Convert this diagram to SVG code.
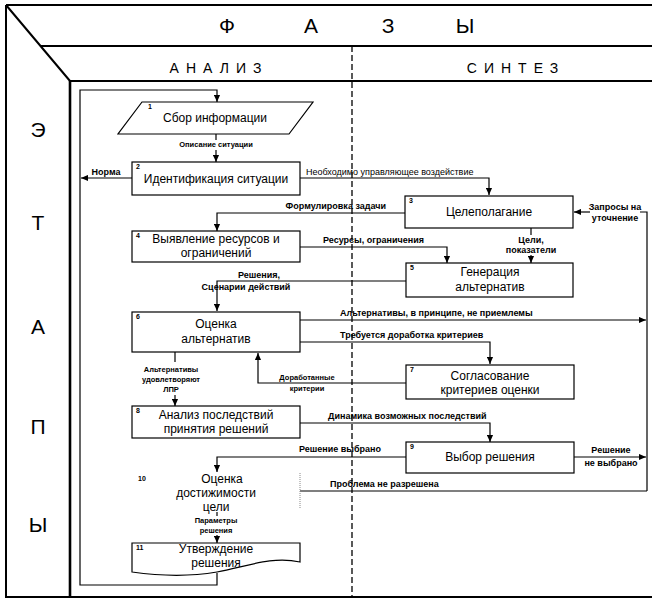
<svg xmlns="http://www.w3.org/2000/svg" width="652" height="603" viewBox="0 0 652 603">
<defs>
<marker id="ah" viewBox="0 0 8 8" refX="8" refY="4" markerWidth="7" markerHeight="7" markerUnits="userSpaceOnUse" orient="auto"><path d="M0,0.5 L8,4 L0,7.5 z" fill="#000"/></marker>
</defs>
<style>
text{font-family:"Liberation Sans",Arial,sans-serif;fill:#000}
.big{font-size:21px;text-anchor:middle}
.phase{font-size:14px;letter-spacing:7px;text-anchor:middle}
.t{font-size:12px;text-anchor:middle}
.n{font-size:7px;font-weight:bold}
.l{font-size:9px;font-weight:bold}
.ln{font-size:9px}
.m{text-anchor:middle}
.s{font-size:7.5px;font-weight:bold;text-anchor:middle}
.box{fill:#fff;stroke:#000;stroke-width:1.2}
.c{fill:none;stroke:#000;stroke-width:1.2}
.a{marker-end:url(#ah)}
.frame{fill:none;stroke:#000;stroke-width:2}
</style>
<rect x="0" y="0" width="652" height="603" fill="#fff"/>
<g id="frame">
<path class="frame" d="M6,5 H652 M6,5 V597 H652 M6,5 L70,81 M41,46 H652 M70,81 H652"/>
<line x1="70" y1="81" x2="70" y2="597" stroke="#000" stroke-width="2.6"/>
<line x1="352" y1="46" x2="352" y2="597" stroke="#000" stroke-width="1.3" stroke-dasharray="6,3"/>
<text class="big" x="227" y="33">Ф</text>
<text class="big" x="311" y="33">А</text>
<text class="big" x="388" y="33">З</text>
<text class="big" x="465" y="33">Ы</text>
<text class="phase" x="219" y="73">АНАЛИЗ</text>
<text class="phase" x="516" y="73">СИНТЕЗ</text>
<text class="big" x="38" y="137">Э</text>
<text class="big" x="38" y="230">Т</text>
<text class="big" x="38" y="334">А</text>
<text class="big" x="38" y="434">П</text>
<text class="big" x="38" y="532">Ы</text>
</g>
<g id="connectors">
<path class="c a" d="M217,573 V585 H80 V90 H217 V102"/>
<path class="c" d="M216,134 V140"/>
<text class="s" x="216" y="147">Описание ситуации</text>
<path class="c a" d="M216,150 V162"/>
<path class="c a" d="M132,178 H81"/>
<text class="l m" x="106" y="175">Норма</text>
<path class="c a" d="M300,178 H489 V195"/>
<text class="ln" x="306" y="175">Необходимо управляющее воздействие</text>
<path class="c a" d="M405,213 H217 V231"/>
<text class="l" x="386" y="209" text-anchor="end">Формулировка задачи</text>
<path class="c a" d="M300,247 H447 V263"/>
<text class="l" x="323" y="243">Ресурсы, ограничения</text>
<path class="c" d="M531,228 V235"/>
<text class="l m" x="531" y="243">Цели,</text>
<text class="l m" x="531" y="253">показатели</text>
<path class="c a" d="M531,255 V263"/>
<path class="c" d="M647,491 V212 H640"/>
<text class="l m" x="615" y="210">Запросы на</text>
<text class="l m" x="615" y="221">уточнение</text>
<path class="c a" d="M590,212 H574"/>
<path class="c a" d="M406,281 H217 V311"/>
<text class="l m" x="259" y="278">Решения,</text>
<text class="l m" x="246" y="290">Сценарии действий</text>
<path class="c a" d="M300,320 H646"/>
<text class="l" x="340" y="316">Альтернативы, в принципе, не приемлемы</text>
<path class="c a" d="M300,342 H490 V364"/>
<text class="l" x="340" y="338">Требуется доработка критериев</text>
<path class="c a" d="M406,383 H258 V353"/>
<text class="s" x="307" y="380">Доработанные</text>
<text class="s" x="307" y="391">критерии</text>
<path class="c" d="M175,352 V362"/>
<text class="s" x="171" y="372">Альтернативы</text>
<text class="s" x="171" y="382">удовлетворяют</text>
<text class="s" x="171" y="392">ЛПР</text>
<path class="c a" d="M175,395 V406"/>
<path class="c a" d="M300,423 H490 V442"/>
<text class="l" x="328" y="419">Динамика возможных последствий</text>
<path class="c a" d="M406,457 H217 V472"/>
<text class="l" x="299" y="452">Решение выбрано</text>
<path class="c a" d="M574,457 H646"/>
<text class="l m" x="611" y="453">Решение</text>
<text class="l m" x="611" y="466">не выбрано</text>
<path class="c" d="M300,491 H647"/>
<text class="l" x="330" y="487">Проблема не разрешена</text>
<path class="c" d="M217,512 V516"/>
<text class="s" x="216" y="523">Параметры</text>
<text class="s" x="216" y="533">решения</text>
<path class="c a" d="M217,535 V543"/>
</g>
<g id="node1">
<path class="box" d="M142,102 H313 L289,134 H118 Z"/>
<text class="n" x="148" y="109">1</text>
<text class="t" x="215" y="122">Сбор информации</text>
</g>
<g id="node2">
<rect class="box" x="132" y="162" width="168" height="33"/>
<text class="n" x="136" y="169">2</text>
<text class="t" x="216" y="183">Идентификация ситуации</text>
</g>
<g id="node3">
<rect class="box" x="405" y="196" width="168" height="32"/>
<text class="n" x="409" y="203">3</text>
<text class="t" x="489" y="216">Целеполагание</text>
</g>
<g id="node4">
<rect class="box" x="132" y="231" width="168" height="31"/>
<text class="n" x="136" y="238">4</text>
<text class="t" x="216" y="243">Выявление ресурсов и</text>
<text class="t" x="216" y="257">ограничений</text>
</g>
<g id="node5">
<rect class="box" x="406" y="263" width="167" height="34"/>
<text class="n" x="410" y="270">5</text>
<text class="t" x="490" y="276">Генерация</text>
<text class="t" x="490" y="291">альтернатив</text>
</g>
<g id="node6">
<rect class="box" x="132" y="312" width="168" height="40"/>
<text class="n" x="136" y="319">6</text>
<text class="t" x="216" y="328">Оценка</text>
<text class="t" x="216" y="343">альтернатив</text>
</g>
<g id="node7">
<rect class="box" x="406" y="365" width="168" height="34"/>
<text class="n" x="410" y="372">7</text>
<text class="t" x="490" y="380">Согласование</text>
<text class="t" x="490" y="394">критериев оценки</text>
</g>
<g id="node8">
<rect class="box" x="132" y="406" width="168" height="32"/>
<text class="n" x="136" y="413">8</text>
<text class="t" x="216" y="419">Анализ последствий</text>
<text class="t" x="216" y="433">принятия решений</text>
</g>
<g id="node9">
<rect class="box" x="406" y="442" width="168" height="31"/>
<text class="n" x="410" y="449">9</text>
<text class="t" x="490" y="461">Выбор решения</text>
</g>
<g id="node10">
<path d="M300,473 V508" fill="none" stroke="#888" stroke-width="1" stroke-dasharray="1,1"/>
<text class="n" x="138" y="481">10</text>
<text class="t" x="222" y="483">Оценка</text>
<text class="t" x="216" y="497">достижимости</text>
<text class="t" x="216" y="511">цели</text>
</g>
<g id="node11">
<path class="box" d="M132,543 H300 V562 C272,556 248,566 217,572 C188,577 160,576 132,572 Z"/>
<text class="n" x="136" y="550">11</text>
<text class="t" x="216" y="553">Утверждение</text>
<text class="t" x="216" y="567">решения</text>
</g>
</svg>
